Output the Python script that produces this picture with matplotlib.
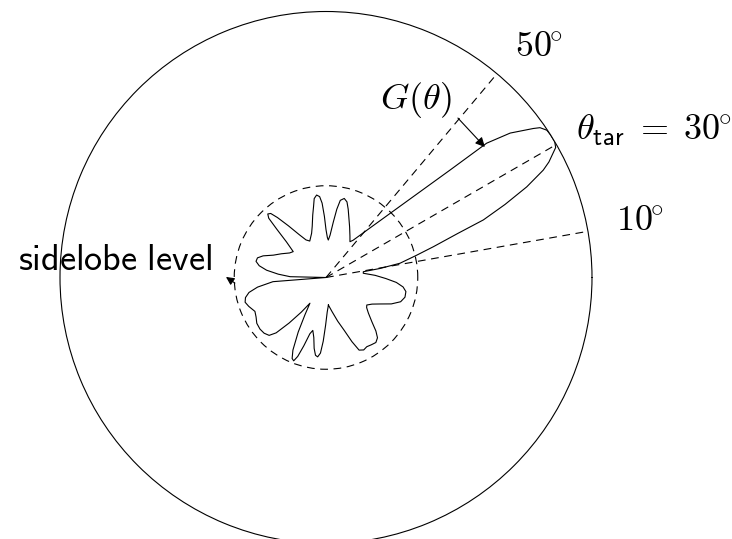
import numpy as np
import matplotlib
matplotlib.use("Agg")
import matplotlib.pyplot as plt

plt.rcParams['mathtext.fontset'] = 'cm'

# beam pattern G(theta), angle in degrees, gain normalised to the outer circle
pattern_deg = [-85, -80, -75, -71, -68, -65.5, -62.5, -59.5, -56, -52.5, -49.5,
               -47, -44, -40, -36.5, -34, -30, -26, -22, -18, -14, -10, -7, -4,
               -1, 2.5, 5, 6.5,
               # main lobe
               8.8, 9.5, 10.9, 13.7, 16, 18.5, 20.1, 22.2, 24.3, 26.3, 27.4,
               29.5, 30.7, 32.5, 33.7, 35, 35.7, 38.1, 39.9, 40.3, 40.9, 41.8,
               43.1, 45, 48.4, 54,
               # sidelobes
               56.2, 60, 65, 69, 72, 74.5, 77, 79.5, 81, 82.5, 84.5, 86.5, 88,
               90, 91.5, 93, 94.5, 96.5, 98.5, 100, 102, 105, 108, 114, 118,
               122, 126, 129, 130.8, 132.5, 134, 135.5, 138, 141.7, 146, 152,
               157, 161, 164, 167, 170, 173, 176, 178.7, 180, 184.5, 188, 191,
               194, 197, 200.5, 205.5, 209.5, 213.5, 218, 222, 225.5, 228, 231,
               234.5, 238, 240.5, 243, 245.5, 247.3, 248.8, 250.3, 252, 254,
               256, 258.5, 260.5, 262.3, 264, 265.8, 267.5, 269.5, 272]
pattern_gain = [0.104, 0.13, 0.17, 0.21, 0.26, 0.30, 0.307, 0.302, 0.305, 0.308,
                0.298, 0.275, 0.24, 0.208, 0.19, 0.185, 0.20, 0.227, 0.265,
                0.295, 0.306, 0.305, 0.292, 0.265, 0.225, 0.185, 0.155, 0.141,
                0.142, 0.206, 0.283, 0.348, 0.42, 0.523, 0.63, 0.727, 0.828,
                0.911, 0.944, 0.992, 1.0, 1.0, 0.998, 0.982, 0.96, 0.88, 0.787,
                0.709, 0.617, 0.524, 0.432, 0.34, 0.249, 0.173,
                0.162, 0.18, 0.21, 0.24, 0.27, 0.295, 0.305, 0.295, 0.26, 0.21,
                0.16, 0.141, 0.15, 0.18, 0.23, 0.28, 0.305, 0.312, 0.30, 0.27,
                0.24, 0.20, 0.175, 0.15, 0.16, 0.19, 0.24, 0.29, 0.318, 0.324,
                0.31, 0.26, 0.20, 0.157, 0.165, 0.19, 0.215, 0.25, 0.268, 0.27,
                0.255, 0.225, 0.18, 0.135, 0.0, 0.2, 0.26, 0.295, 0.312, 0.318,
                0.31, 0.296, 0.302, 0.312, 0.315, 0.313, 0.305, 0.28, 0.22,
                0.16, 0.114, 0.16, 0.23, 0.30, 0.33, 0.336, 0.315, 0.27, 0.22,
                0.205, 0.23, 0.27, 0.295, 0.30, 0.285, 0.24, 0.18, 0.13]

sidelobe_level = 0.345
marked_angles = [10, 30, 50]
target_angle = 30


def main():
    fig = plt.figure(figsize=(7.32, 5.39), dpi=100)
    W, H = 732, 539
    cx, cy, R = 326, 277.5, 266
    ax = fig.add_axes([(cx - R) / W, (H - cy - R) / H, 2 * R / W, 2 * R / H],
                      projection='polar')
    ax.set_ylim(0, 1)
    ax.set_thetagrids(marked_angles, labels=[''] * len(marked_angles))
    ax.set_rgrids([sidelobe_level], labels=[''])
    ax.xaxis.grid(True, color='k', lw=0.8, linestyle=(0, (7, 5)))
    ax.yaxis.grid(True, color='k', lw=0.8, linestyle=(0, (7, 5)))
    ax.tick_params(length=0, width=0)
    for side in ('start', 'end', 'inner'):
        ax.spines[side].set_visible(False)
    ax.spines['polar'].set_linewidth(0.8)
    ax.spines['polar'].set_color('k')
    ax.spines['polar'].set_capstyle('round')

    th = np.deg2rad(pattern_deg + pattern_deg[:1])
    g = pattern_gain + pattern_gain[:1]
    ax.plot(th, g, color='k', lw=0.8, solid_joinstyle='round')

    fs = 26
    ax.text(np.deg2rad(47.3), 1.18, r'$50^{\!\!\circ}$', fontsize=fs,
            ha='center', va='center')
    ax.text(np.deg2rad(10.2), 1.20, r'$10^{\!\!\circ}$', fontsize=fs,
            ha='center', va='center')
    ax.text(np.deg2rad(24.2), 1.352,
            r'$\theta_{\mathsf{tar}}\;=\;%d^{\!\!\circ}$' % target_angle,
            fontsize=fs, ha='center', va='center')
    ax.text(np.deg2rad(63.1), 0.748, r'$G(\theta)$', fontsize=fs,
            ha='center', va='center')
    ax.text(np.deg2rad(175.3), 0.796, r'$\mathsf{sidelobe\ level}$',
            fontsize=fs, ha='center', va='center')

    arrow = dict(arrowstyle='-|>', color='k', lw=0.8, mutation_scale=14,
                 shrinkA=0, shrinkB=0)
    ax.annotate('', xy=(np.deg2rad(39.4), 0.773),
                xytext=(np.deg2rad(50.4), 0.778), arrowprops=arrow)
    ax.annotate('', xy=(np.deg2rad(179.7), 0.376),
                xytext=(np.deg2rad(183.5), 0.343),
                arrowprops=dict(arrow, mutation_scale=12))

    fig.savefig('out.png', dpi=100)


if __name__ == "__main__":
    main()
